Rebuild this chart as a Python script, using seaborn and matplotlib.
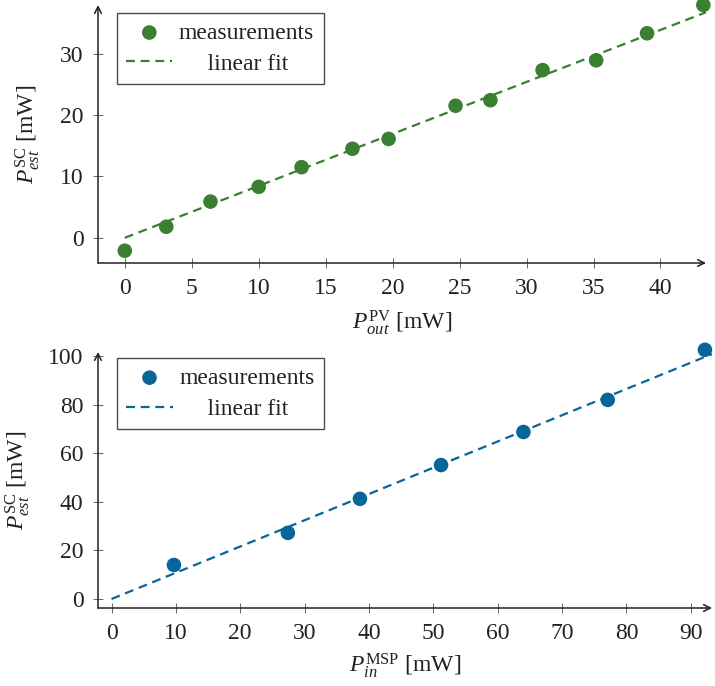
import numpy as np
import pandas as pd
import matplotlib
matplotlib.use("Agg")
import matplotlib.pyplot as plt
import seaborn as sns

# ---- data ----
pv_out = [0.0, 3.1, 6.4, 10.0, 13.2, 17.0, 19.7, 24.7, 27.3, 31.2, 35.2, 39.0, 43.2]
sc_est_top = [-2.1, 1.8, 5.9, 8.3, 11.5, 14.5, 16.1, 21.5, 22.4, 27.3, 28.9, 33.3, 37.9]
fit_top_slope, fit_top_intercept = 0.846, 0.0

msp_in = [9.7, 27.4, 38.6, 51.2, 64.0, 77.1, 92.2]
sc_est_bot = [14.0, 27.2, 41.2, 55.1, 68.7, 81.9, 102.5]
fit_bot_slope, fit_bot_intercept = 1.08, 0.0

xticks_top = [0, 5, 10, 15, 20, 25, 30, 35, 40]
yticks_top = [0, 10, 20, 30]
xticks_bot = [0, 10, 20, 30, 40, 50, 60, 70, 80, 90]
yticks_bot = [0, 20, 40, 60, 80, 100]

labels = ["measurements", "linear fit"]
green = "#3a7f32"
blue = "#07659a"

sns.set_theme(style="white")
plt.rcParams["font.family"] = ["Liberation Serif", "DejaVu Serif"]
plt.rcParams["mathtext.fontset"] = "custom"
plt.rcParams["mathtext.rm"] = "Liberation Serif"
plt.rcParams["mathtext.it"] = "Liberation Serif:italic"
plt.rcParams["mathtext.bf"] = "Liberation Serif:bold"

FS = 17
fig = plt.figure(figsize=(7.15, 6.86), dpi=100)
ax1 = fig.add_axes([98 / 715, 1 - 263 / 686, (706 - 98) / 715, 258 / 686])
ax2 = fig.add_axes([98 / 715, 1 - 608 / 686, (712 - 98) / 715, 256 / 686])


def style_axis(ax, xlim, ylim, xticks, yticks, xlabel, ylabel, xlab_y, ylab_x):
    ax.set_xlim(*xlim)
    ax.set_ylim(*ylim)
    ax.set_xticks(xticks)
    ax.set_yticks(yticks)
    for s in ax.spines.values():
        s.set_visible(False)
    ax.tick_params(axis="both", which="both", direction="inout", length=7,
                   width=0.7, color="#666666", labelsize=FS, labelcolor="#222222",
                   bottom=True, left=True)
    ax.tick_params(axis="x", pad=7)
    ax.tick_params(axis="y", pad=7)
    ax.set_xlabel(xlabel, fontsize=FS, color="#222222")
    ax.set_ylabel(ylabel, fontsize=FS, color="#222222")
    ax.xaxis.set_label_coords(0.5, xlab_y)
    ax.yaxis.set_label_coords(ylab_x, 0.5)
    for xy in [(1, 0), (0, 1)]:
        ax.annotate("", xy=xy, xytext=(0, 0), xycoords="axes fraction",
                    textcoords="axes fraction",
                    arrowprops=dict(arrowstyle="->", color="#222222", lw=1.1,
                                    shrinkA=0, shrinkB=0, mutation_scale=12))


def panel(ax, x, y, slope, intercept, color, xlim, ylim, xticks, yticks,
          xlabel, ylabel, pad, leg_anchor, xlab_y, ylab_x):
    df = pd.DataFrame({"x": x, "y": y})
    sns.scatterplot(data=df, x="x", y="y", ax=ax, color=color, s=110,
                    edgecolor="none", label=labels[0], zorder=3, clip_on=False)
    fx = np.array([0.0, xlim[1]])
    fit = pd.DataFrame({"x": fx, "y": slope * fx + intercept})
    sns.lineplot(data=fit, x="x", y="y", ax=ax, color=color, lw=1.6,
                 linestyle=(0, (4, 2.6)), label=pad + labels[1], zorder=2)
    style_axis(ax, xlim, ylim, xticks, yticks, xlabel, ylabel, xlab_y, ylab_x)
    leg = ax.legend(loc="upper left", bbox_to_anchor=leg_anchor, frameon=True,
                    fancybox=False, edgecolor="#222222", fontsize=FS,
                    handlelength=1.95, handletextpad=0.28, borderpad=0.4,
                    labelspacing=0.4, borderaxespad=0.0)
    leg.get_frame().set_linewidth(1.0)
    for t in leg.get_texts():
        t.set_color("#222222")


pad = "\u2007\u2007\u2009"
panel(ax1, pv_out, sc_est_top, fit_top_slope, fit_top_intercept, green,
      (-2.0, 43.4), (-4.1, 37.9), xticks_top, yticks_top,
      r"$P^{\mathrm{PV}}_{out}$ [mW]", r"$P^{\mathrm{SC}}_{est}$ [mW]", pad,
      (0.031, 0.97), -0.175, -0.092)
panel(ax2, msp_in, sc_est_bot, fit_bot_slope, fit_bot_intercept, blue,
      (-2.1, 93.3), (-3.7, 101.6), xticks_bot, yticks_bot,
      r"$P^{\mathrm{MSP}}_{in}$ [mW]", r"$P^{\mathrm{SC}}_{est}$ [mW]", pad,
      (0.031, 0.977), -0.17, -0.107)

fig.savefig("out.png", dpi=100)
